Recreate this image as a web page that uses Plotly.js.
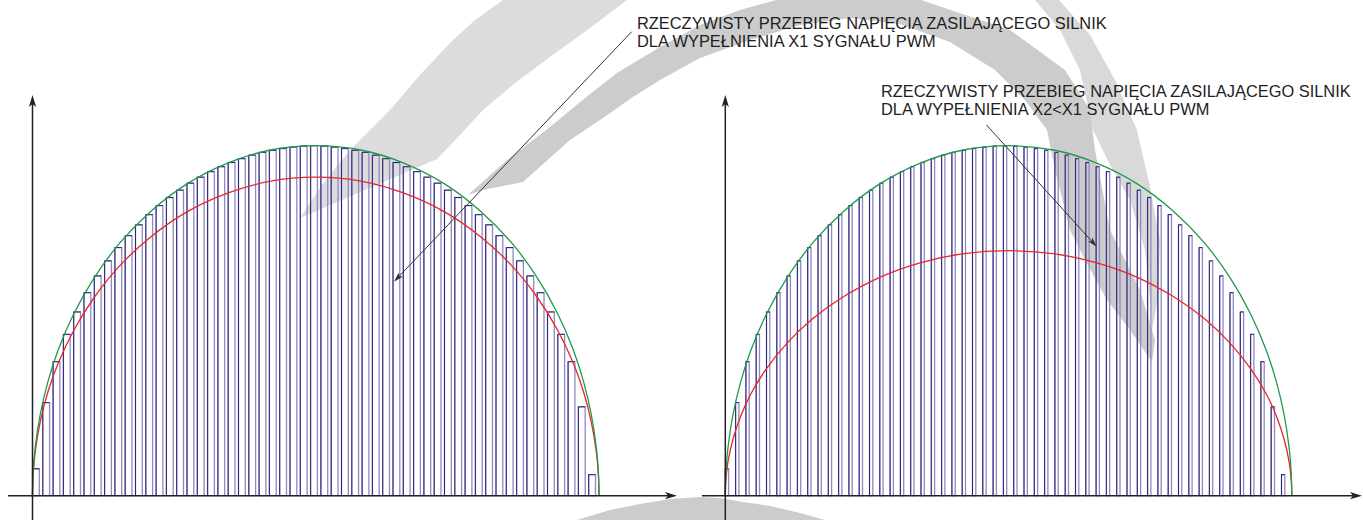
<!DOCTYPE html>
<html><head><meta charset="utf-8">
<script src="https://cdn.plot.ly/plotly-3.0.1.min.js"></script>
<style>html,body{margin:0;padding:0;background:#fff}#chart{width:1363px;height:520px}</style>
</head><body><div id="chart"></div>
<script>
// ---------------- data ----------------
// height of each PWM pulse, % of supply amplitude (55 pulses per half-period)
const pulseHeights = [7.7, 26.6, 38.3, 46.1, 52.5, 58.0, 62.8, 67.1, 70.9, 74.3, 77.4, 80.3, 82.9, 85.2,
  87.3, 89.3, 91.0, 92.6, 94.0, 95.2, 96.3, 97.3, 98.1, 98.7, 99.2, 99.6, 99.9, 100.0,
  99.9, 99.6, 99.2, 98.7, 98.1, 97.3, 96.3, 95.2, 94.0, 92.6, 91.0, 89.3, 87.3, 85.2, 82.9,
  80.3, 77.4, 74.3, 70.9, 67.1, 62.8, 58.0, 52.5, 46.1, 38.3, 25.4, 6.0];
// duty cycle (fraction of a PWM period) for X1 and X2<X1
const dutyX1 = 0.66;
const dutyX2 = 0.32;
// envelope sample positions (in PWM periods) and values (%)
const envelopeT = [0, 0.05, 0.25, 0.75, 1.5, 2.5, 4, 6, 8.5, 11.5, 15, 19, 23, 27.5,
  32, 36, 40, 43.5, 46.5, 49, 51, 52.5, 53.5, 54.25, 54.75, 54.95, 55];
const supplyEnvelope = [0, 6.0, 13.5, 23.2, 32.6, 41.7, 51.9, 62.3, 72.3, 81.3, 89.1, 95.1, 98.7, 100,
  98.7, 95.1, 89.1, 81.3, 72.3, 62.3, 51.9, 41.7, 32.6, 23.2, 13.5, 6.0, 0];
const averageX1 = [0, 5.5, 12.3, 21.1, 29.7, 37.9, 47.2, 56.7, 65.8, 74.0, 81.1, 86.5, 89.8, 91.0,
  89.8, 86.5, 81.1, 74.0, 65.8, 56.7, 47.2, 37.9, 29.7, 21.1, 12.3, 5.5, 0];
const averageX2 = [0, 4.2, 9.5, 16.2, 22.8, 29.2, 36.3, 43.6, 50.6, 56.9, 62.4, 66.6, 69.1, 70.0,
  69.1, 66.6, 62.4, 56.9, 50.6, 43.6, 36.3, 29.2, 22.8, 16.2, 9.5, 4.2, 0];
const labelX1 = ["RZECZYWISTY PRZEBIEG NAPIĘCIA ZASILAJĄCEGO SILNIK", "DLA WYPEŁNIENIA X1 SYGNAŁU PWM"];
const labelX2 = ["RZECZYWISTY PRZEBIEG NAPIĘCIA ZASILAJĄCEGO SILNIK", "DLA WYPEŁNIENIA X2&lt;X1 SYGNAŁU PWM"];

// ---------------- styling / layout ----------------
const W = 1363, H = 520;
const PX_PER_T = 10.3, PX_PER_Y = 3.5, BASE = 495.7;
const ORIGIN_L = 32.5, ORIGIN_R = 725.3, SPLIT = 690;
const fx = x => x / W, fy = y => 1 - y / H;
const pulseIndex = pulseHeights.map((_, k) => k);

const PULSE_DARK = '#2f2678', PULSE_LIGHT = '#9089c0', GREEN = '#1f9a4c', RED = '#e8262b';
function pulses(duty, xa, ya) {
  return {type: 'bar', x: pulseIndex, y: pulseHeights, width: duty, offset: 0,
    xaxis: xa, yaxis: ya, marker: {color: 'rgba(0,0,0,0)', line: {color: PULSE_LIGHT, width: 1.3}}, hoverinfo: 'skip'};
}
// dark left edge + top of each pulse (built from the pulse table)
function pulseEdges(duty, xa, ya) {
  const x = [], y = [];
  pulseIndex.forEach((k, i) => { x.push(k, k, k + duty, null); y.push(0, pulseHeights[i], pulseHeights[i], null); });
  return {type: 'scatter', mode: 'lines', x: x, y: y, xaxis: xa, yaxis: ya, connectgaps: false,
    line: {color: PULSE_DARK, width: 1}, hoverinfo: 'skip'};
}
function curve(vals, color, xa, ya) {
  return {type: 'scatter', mode: 'lines', x: envelopeT, y: vals, xaxis: xa, yaxis: ya,
    line: {color: color, width: 1.3, shape: 'spline', smoothing: 1}, hoverinfo: 'skip'};
}
const traces = [
  pulses(dutyX1, 'x', 'y'), pulseEdges(dutyX1, 'x', 'y'),
  curve(averageX1, RED, 'x', 'y'), curve(supplyEnvelope, GREEN, 'x', 'y'),
  pulses(dutyX2, 'x2', 'y2'), pulseEdges(dutyX2, 'x2', 'y2'),
  curve(averageX2, RED, 'x2', 'y2'), curve(supplyEnvelope, GREEN, 'x2', 'y2')
];

const hidden = {showgrid: false, zeroline: false, showticklabels: false, showline: false, ticks: '', fixedrange: true};
const yRange = [-(H - BASE) / PX_PER_Y, BASE / PX_PER_Y];

function poly(pts) {
  return 'M' + pts.map(p => fx(p[0]).toFixed(5) + ',' + fy(p[1]).toFixed(5)).join('L') + 'Z';
}
function bg(pts, color) {
  return {type: 'path', xref: 'paper', yref: 'paper', path: poly(pts), fillcolor: color, line: {width: 0}, layer: 'below'};
}
function arrow(x0, y0, x1, y1, len, half, color, width) {
  const L = Math.hypot(x1 - x0, y1 - y0), dx = (x1 - x0) / L, dy = (y1 - y0) / L;
  const nx = -dy, ny = dx;
  const bx = x1 - len * dx, by = y1 - len * dy;
  const mx = x1 - 0.75 * len * dx, my = y1 - 0.75 * len * dy;
  return [
    {type: 'line', xref: 'paper', yref: 'paper', x0: fx(x0), y0: fy(y0), x1: fx(mx), y1: fy(my),
      line: {color: color, width: width}},
    {type: 'path', xref: 'paper', yref: 'paper', fillcolor: color, line: {width: 0},
      path: poly([[x1, y1], [bx + half * nx, by + half * ny], [mx, my], [bx - half * nx, by - half * ny]])}
  ];
}

const shapes = [
  bg([[503,0],[475,20],[450,43],[420,75],[390,110],[365,135],[350,150],[322,185],[300,218],
      [437,159],[460,135],[483,110],[515,83],[550,57],[590,28],[627,0]], '#dcdcdc'),
  bg([[1035,0],[1060,30],[1080,70],[1093,130],[1110,165],[1130,200],[1145,250],[1150,300],[1152,330],
      [1158,300],[1160,240],[1150,187],[1137,130],[1115,80],[1090,35],[1059,0]], '#d9d9d9'),
  bg([[468,195],[507,160],[550,127],[585,98],[617,73],[660,47],[700,25],[740,10],[776,0],[840,-15],
      [921,0],[1010,30],[1065,70],[1090,110],[1095,150],[1110,230],[1140,290],[1155,340],[1152,362],
      [1130,330],[1107,300],[1085,260],[1070,230],[1055,170],[1047,130],[1025,100],[995,70],[950,42],
      [900,24],[850,18],[800,25],[750,40],[700,58],[660,80],[633,97],[600,120],[570,140],[523,182],[483,190]], '#cccccc'),
  bg([[577,525],[577,520],[610,510],[640,504],[670,499],[700,497],[720,498],[743,502],[770,506],[800,513],[825,520],[825,525]], '#cccccc'),
  ...arrow(8, BASE, 677, BASE, 12, 3.6, '#222', 1.5),
  ...arrow(ORIGIN_L, 520, ORIGIN_L, 95, 12, 3.6, '#222', 1.5),
  ...arrow(702, BASE, 1362, BASE, 12, 3.6, '#222', 1.5),
  ...arrow(ORIGIN_R, 520, ORIGIN_R, 95, 12, 3.6, '#222', 1.5),
  ...arrow(631.7, 31.7, 394, 281.7, 10, 3, '#333', 1),
  ...arrow(986.5, 125, 1096.7, 246.7, 10, 3, '#333', 1)
];

const font = {family: 'Liberation Sans, Arial, sans-serif', size: 16.4, color: '#1e1e1e'};
function txt(s, x, y) {
  return {xref: 'paper', yref: 'paper', x: fx(x), y: fy(y), xanchor: 'left', yanchor: 'middle',
    text: s, showarrow: false, font: font, borderpad: 0};
}
const annotations = [
  txt(labelX1[0], 636, 23), txt(labelX1[1], 636, 41.5),
  txt(labelX2[0], 880, 90.8), txt(labelX2[1], 880, 108.8)
];

const layout = {
  width: W, height: H, margin: {l: 0, r: 0, t: 0, b: 0, pad: 0},
  paper_bgcolor: '#ffffff', plot_bgcolor: 'rgba(0,0,0,0)', showlegend: false, hovermode: false,
  xaxis: Object.assign({domain: [0, SPLIT / W], range: [-ORIGIN_L / PX_PER_T, (SPLIT - ORIGIN_L) / PX_PER_T], anchor: 'y'}, hidden),
  yaxis: Object.assign({domain: [0, 1], range: yRange, anchor: 'x'}, hidden),
  xaxis2: Object.assign({domain: [SPLIT / W, 1], range: [(SPLIT - ORIGIN_R) / PX_PER_T, (W - ORIGIN_R) / PX_PER_T], anchor: 'y2'}, hidden),
  yaxis2: Object.assign({domain: [0, 1], range: yRange, anchor: 'x2'}, hidden),
  shapes: shapes, annotations: annotations, bargap: 0
};
Plotly.newPlot('chart', traces, layout, {staticPlot: true, displayModeBar: false});
</script></body></html>
